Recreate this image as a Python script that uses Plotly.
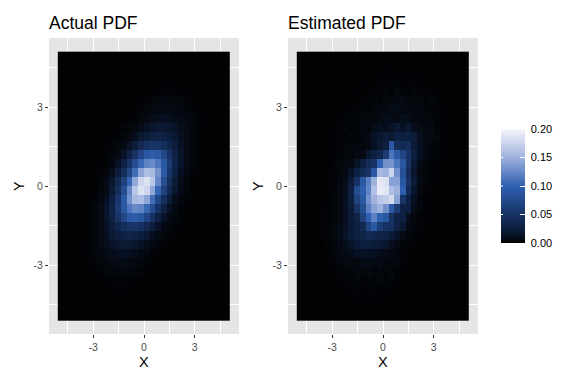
import plotly.graph_objects as go

# Cell values in thousandths of a density unit, top row first
actual_pdf = [
[0]*30,
[0]*30,
[0]*30,
[0,0,0,0,0,0,0,0,0,0,0,0,0,0,0,0,0,0,1,1,1,0,0,0,0,0,0,0,0,0],
[0,0,0,0,0,0,0,0,0,0,0,0,0,0,0,0,1,1,2,2,2,1,1,0,0,0,0,0,0,0],
[0,0,0,0,0,0,0,0,0,0,0,0,0,0,1,2,3,3,4,4,3,3,2,1,0,0,0,0,0,0],
[0,0,0,0,0,0,0,0,0,0,0,0,0,1,2,3,5,6,7,7,6,4,3,2,1,0,0,0,0,0],
[0,0,0,0,0,0,0,0,0,0,0,0,1,2,4,6,9,11,12,11,9,7,5,3,1,1,0,0,0,0],
[0,0,0,0,0,0,0,0,0,0,1,2,3,5,9,13,17,19,19,17,14,10,6,3,2,1,0,0,0,0],
[0,0,0,0,0,0,0,0,0,1,2,3,6,11,18,25,30,32,30,25,18,11,6,3,1,0,0,0,0,0],
[0,0,0,0,0,0,0,0,1,2,4,7,14,25,37,47,53,52,46,35,23,13,7,3,1,0,0,0,0,0],
[0,0,0,0,0,0,0,0,1,3,6,14,29,50,72,90,97,92,74,50,29,15,7,3,1,0,0,0,0,0],
[0,0,0,0,0,0,0,1,2,5,13,29,51,78,104,122,126,114,90,60,33,16,7,3,1,0,0,0,0,0],
[0,0,0,0,0,0,1,2,4,10,23,45,73,108,142,158,156,131,92,54,27,12,5,2,1,0,0,0,0,0],
[0,0,0,0,0,0,1,3,7,17,37,66,103,144,176,185,165,124,79,44,20,8,3,1,0,0,0,0,0,0],
[0,0,0,0,0,0,1,3,8,20,44,79,124,165,185,176,144,103,66,37,17,7,3,1,0,0,0,0,0,0],
[0,0,0,0,0,1,2,5,12,27,54,92,131,156,158,142,108,73,45,23,10,4,2,1,0,0,0,0,0,0],
[0,0,0,0,0,1,3,7,16,33,60,90,114,126,122,104,78,51,29,13,5,2,1,0,0,0,0,0,0,0],
[0,0,0,0,0,1,3,7,15,29,50,74,92,97,90,72,50,29,14,6,3,1,0,0,0,0,0,0,0,0],
[0,0,0,0,0,1,3,7,13,23,35,46,52,53,47,37,25,14,7,4,2,1,0,0,0,0,0,0,0,0],
[0,0,0,0,0,1,3,6,11,18,25,30,32,30,25,18,11,6,3,2,1,0,0,0,0,0,0,0,0,0],
[0,0,0,0,1,2,3,6,10,14,17,19,19,17,13,9,5,3,2,1,0,0,0,0,0,0,0,0,0,0],
[0,0,0,0,1,1,3,5,7,9,11,12,11,9,6,4,2,1,0,0,0,0,0,0,0,0,0,0,0,0],
[0,0,0,0,0,1,2,3,4,6,7,7,6,5,3,2,1,0,0,0,0,0,0,0,0,0,0,0,0,0],
[0,0,0,0,0,0,1,2,3,3,4,4,3,3,2,1,0,0,0,0,0,0,0,0,0,0,0,0,0,0],
[0,0,0,0,0,0,0,1,1,2,2,2,1,1,0,0,0,0,0,0,0,0,0,0,0,0,0,0,0,0],
[0,0,0,0,0,0,0,0,0,1,1,1,0,0,0,0,0,0,0,0,0,0,0,0,0,0,0,0,0,0],
[0]*30,
[0]*30,
[0]*30,
]

estimated_pdf = [
[0]*30,
[0,0,0,0,0,0,0,0,0,0,0,0,0,0,0,1,1,0,0,0,0,0,0,0,0,0,0,0,0,0],
[0,0,0,0,0,0,0,0,0,0,0,0,1,0,1,1,0,1,1,0,1,1,0,0,0,0,0,0,0,0],
[0,0,0,0,0,0,0,0,0,0,0,1,1,0,2,1,2,3,1,2,2,1,0,1,0,0,0,0,0,0],
[0,0,0,0,0,0,0,0,0,0,1,0,2,1,2,3,2,4,3,2,3,2,1,2,1,0,0,0,0,0],
[0,0,0,0,0,0,0,0,0,1,0,2,2,3,2,4,3,5,6,3,4,3,2,3,1,0,0,0,0,0],
[0,0,0,0,0,0,0,0,1,1,2,3,2,3,5,4,7,8,5,6,4,4,3,2,2,1,0,0,0,0],
[0,0,0,0,0,0,0,1,2,3,2,3,4,3,6,9,8,6,10,9,6,5,4,3,2,1,0,0,0,0],
[0,0,0,0,0,0,1,2,3,2,3,4,3,8,12,8,14,18,13,18,10,7,4,5,2,1,0,0,0,0],
[0,0,0,0,0,0,1,2,2,3,2,4,6,14,16,22,18,30,26,28,22,11,6,5,3,2,0,0,0,0],
[0,0,0,0,0,0,1,1,3,4,3,3,6,12,18,26,92,42,40,44,20,12,6,3,2,1,0,0,0,0],
[0,0,0,0,0,0,1,2,3,3,6,7,18,28,35,60,112,92,72,50,26,12,5,3,2,1,0,0,0,0],
[0,0,0,0,0,0,2,3,5,6,14,28,42,50,100,130,132,112,90,52,20,8,3,2,1,0,0,0,0,0],
[0,0,0,0,0,1,2,3,6,14,28,42,52,90,155,150,175,130,82,42,16,6,3,2,1,0,0,0,0,0],
[0,0,0,0,0,1,2,4,9,22,52,90,120,150,190,185,140,140,90,50,20,6,3,1,1,0,0,0,0,0],
[0,0,0,0,0,1,2,5,11,28,78,100,122,162,192,188,160,150,98,40,16,5,2,1,0,0,0,0,0,0],
[0,0,0,0,0,1,3,5,12,28,68,92,130,150,165,170,180,140,52,28,12,3,1,1,0,0,0,0,0,0],
[0,0,0,0,1,2,3,6,12,22,50,80,120,140,150,130,95,60,30,28,8,3,1,0,0,0,0,0,0,0],
[0,0,0,0,1,2,3,6,12,20,32,68,100,120,100,90,50,30,28,10,4,2,1,0,0,0,0,0,0,0],
[0,0,0,0,1,2,4,8,13,20,28,40,70,90,62,50,48,30,18,6,3,2,1,0,0,0,0,0,0,0],
[0,0,0,0,1,2,4,9,14,20,28,32,40,35,32,30,20,14,6,3,2,1,0,0,0,0,0,0,0,0],
[0,0,0,0,0,2,3,7,11,15,20,25,26,22,20,16,11,6,3,2,1,0,0,0,0,0,0,0,0,0],
[0,0,0,0,0,1,3,5,7,9,12,13,12,11,8,7,5,3,2,1,0,0,0,0,0,0,0,0,0,0],
[0,0,0,0,0,1,2,3,5,6,4,8,7,5,7,4,3,4,2,1,0,0,0,0,0,0,0,0,0,0],
[0,0,0,0,0,0,1,2,3,2,4,3,5,3,4,2,4,2,1,0,0,0,0,0,0,0,0,0,0,0],
[0,0,0,0,0,0,0,1,2,2,3,2,3,2,3,2,3,1,0,0,0,0,0,0,0,0,0,0,0,0],
[0,0,0,0,0,0,0,0,1,1,2,1,2,2,1,2,1,0,0,0,0,0,0,0,0,0,0,0,0,0],
[0,0,0,0,0,0,0,0,0,0,1,1,1,1,1,0,0,0,0,0,0,0,0,0,0,0,0,0,0,0],
[0]*30,
[0]*30,
]

x_centres = [-4.93,-4.59,-4.25,-3.91,-3.57,-3.23,-2.89,-2.55,-2.21,-1.87,-1.53,-1.19,-0.85,-0.51,-0.17,
             0.17,0.51,0.85,1.19,1.53,1.87,2.21,2.55,2.89,3.23,3.57,3.91,4.25,4.59,4.93]
y_centres = list(reversed(x_centres))
tick_vals = [-3, 0, 3]
tick_text = ["-3", "0", "3"]
legend_vals = [0, 0.05, 0.10, 0.15, 0.20]
legend_text = ["\u00a00.00", "\u00a00.05", "\u00a00.10", "\u00a00.15", "\u00a00.20"]
panel_titles = ["Actual PDF", "Estimated PDF"]

W, H = 576, 384
FONT = "Liberation Sans"
colorscale = [[0, "#020203"], [0.1, "#0b1a36"], [0.25, "#173263"], [0.5, "#2f60b0"], [0.75, "#9fb2de"], [1, "#f6f6fb"]]

fig = go.Figure()
panels = [(49, 239), (288, 478)]
for k, (data, (left, right)) in enumerate(zip([actual_pdf, estimated_pdf], panels)):
    suffix = "" if k == 0 else "2"
    fig.add_trace(go.Heatmap(
        x=x_centres, y=y_centres, z=[[v / 1000 for v in row] for row in data],
        xaxis="x" + suffix, yaxis="y" + suffix, zmin=0, zmax=0.2,
        colorscale=colorscale, showscale=(k == 0), hoverinfo="skip",
        colorbar=dict(
            x=501 / W, xanchor="left", xpad=0, ypad=0, y=1 - 243 / H, yanchor="bottom",
            len=114, lenmode="pixels", thickness=23.5, thicknessmode="pixels",
            tickvals=legend_vals, ticktext=legend_text, ticks="inside", ticklen=5,
            tickcolor="white", tickwidth=1, outlinewidth=0, borderwidth=0,
            tickfont=dict(family=FONT, size=11, color="black"),
        ),
    ))
    axis_common = dict(
        range=[-5.62, 5.62], tickvals=tick_vals, ticktext=tick_text, ticks="outside",
        ticklen=3, tickwidth=1, tickcolor="#333333", showgrid=True, gridcolor="white", gridwidth=1,
        zeroline=False, showline=False, layer="below traces",
        tickfont=dict(family=FONT, size=10.5, color="#4d4d4d"),
        minor=dict(tick0=0, dtick=1.5, showgrid=True, gridcolor="white", gridwidth=0.5, ticks=""),
    )
    fig.update_layout({
        "xaxis" + suffix: dict(axis_common, domain=[left / W, right / W], anchor="y" + suffix),
        "yaxis" + suffix: dict(axis_common, domain=[1 - 334 / H, 1 - 38 / H], anchor="x" + suffix),
    })
    fig.add_annotation(text=panel_titles[k], xref="paper", yref="paper", x=(left - 2) / W, y=1 - 23 / H,
                       xanchor="left", yanchor="middle", showarrow=False,
                       font=dict(family=FONT, size=17.5, color="black"))
    fig.add_annotation(text="X", xref="paper", yref="paper", x=(left + right) / 2 / W, y=1 - 362 / H,
                       xanchor="center", yanchor="middle", showarrow=False,
                       font=dict(family=FONT, size=14.5, color="black"))
    fig.add_annotation(text="Y", xref="paper", yref="paper", x=(left - 30) / W, y=1 - 186 / H,
                       xanchor="center", yanchor="middle", showarrow=False, textangle=-90,
                       font=dict(family=FONT, size=14.5, color="black"))

# Left-hand white legend ticks (the colour bar itself only draws the right-hand ones)
for v in legend_vals[1:-1]:
    fig.add_annotation(text=" ", xref="paper", yref="paper", x=501 / W, y=(1 - 243 / H) + v / 0.2 * 114 / H,
                       axref="pixel", ayref="pixel", ax=5, ay=0, showarrow=True, arrowhead=0,
                       arrowwidth=1, arrowcolor="white", standoff=0)

fig.update_layout(
    width=W, height=H, margin=dict(l=0, r=0, t=0, b=0),
    paper_bgcolor="white", plot_bgcolor="#e5e5e5", showlegend=False,
)
fig.write_html("out.html", config=dict(displayModeBar=False),
               post_script="document.body.style.margin='0';document.documentElement.style.overflow='hidden';")
